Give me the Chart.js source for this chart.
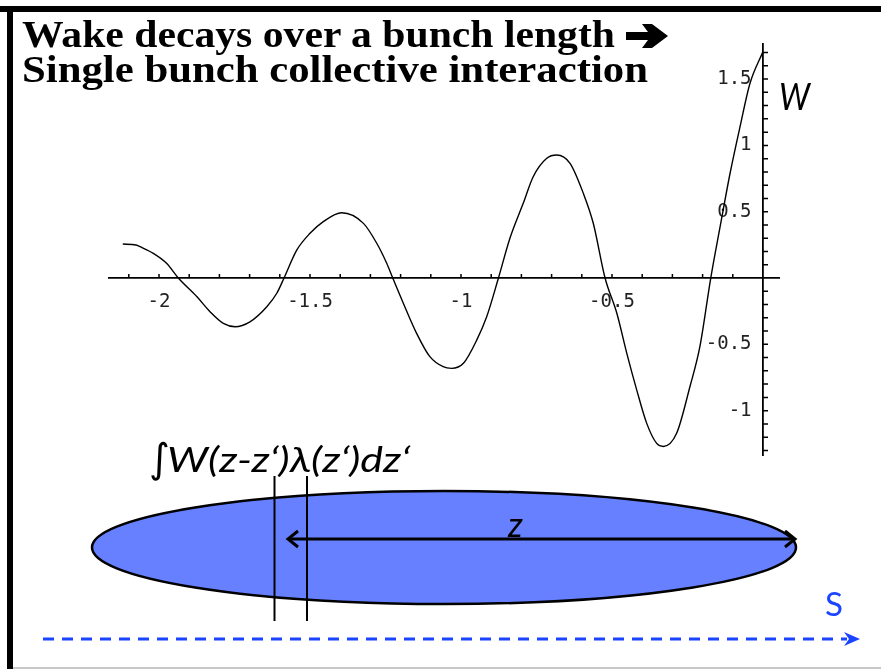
<!DOCTYPE html>
<html>
<head>
<meta charset="utf-8">
<script src="https://cdn.jsdelivr.net/npm/chart.js@4.4.1/dist/chart.umd.min.js"></script>
<style>
  html, body { margin: 0; padding: 0; background: #fff; }
  #slide { position: relative; width: 881px; height: 669px; overflow: hidden; background: #fff; }
  #wakeChart { position: absolute; left: 108px; top: 43px; }
  #deco { position: absolute; left: 0; top: 0; pointer-events: none; }
</style>
</head>
<body>
<div id="slide">
  <canvas id="wakeChart" width="672" height="413"></canvas>
  <svg id="deco" width="881" height="669" viewBox="0 0 881 669">
    <!-- marco de la diapositiva -->
    <rect x="0" y="6" width="881" height="6" fill="#000"/>
    <rect x="7" y="6" width="6" height="663" fill="#000"/>
    <rect x="13" y="667" width="868" height="2" fill="#c8c8c8"/>

    <!-- titulo -->
    <text x="22" y="47" font-family="Liberation Serif" font-weight="bold" font-size="37"
          textLength="593" lengthAdjust="spacingAndGlyphs">Wake decays over a bunch length</text>
    <path d="M626,32 L648,32 L642,24 L652,24 L668,36 L652,48 L642,48 L648,40 L626,40 Z" fill="#000"/>
    <text x="22" y="82" font-family="Liberation Serif" font-weight="bold" font-size="37"
          textLength="626" lengthAdjust="spacingAndGlyphs">Single bunch collective interaction</text>

    <!-- etiqueta del eje -->
    <text x="779" y="110" font-family="Lato" font-style="italic" font-size="36"
          textLength="31" lengthAdjust="spacingAndGlyphs">W</text>

    <!-- paquete -->
    <ellipse cx="444" cy="547.5" rx="352" ry="56.5" fill="#6680ff" stroke="#000" stroke-width="2.5"/>
    <line x1="274.5" y1="476" x2="274.5" y2="621" stroke="#000" stroke-width="2"/>
    <line x1="307" y1="476" x2="307" y2="621" stroke="#000" stroke-width="2"/>
    <line x1="288" y1="539" x2="794" y2="539" stroke="#000" stroke-width="3"/>
    <polyline points="298,531 288,539 298,547" fill="none" stroke="#000" stroke-width="3"/>
    <polyline points="785,531 795,539 785,547" fill="none" stroke="#000" stroke-width="3"/>
    <text x="508" y="537" font-family="Lato" font-style="italic" font-size="35">z</text>

    <text x="149" y="472" font-family="DejaVu Sans" font-size="40">∫</text>
    <text x="167" y="472" font-family="Lato" font-style="italic" font-size="35"
          textLength="243" lengthAdjust="spacingAndGlyphs">W(z-z‘)λ(z‘)dz‘</text>

    <!-- direccion s -->
    <line x1="43" y1="639" x2="847" y2="639" stroke="#1a44ff" stroke-width="3" stroke-dasharray="11 8"/>
    <polygon points="844,632 860,639 844,646 849,639" fill="#1a44ff"/>
    <text x="825" y="616" font-family="Lato" font-size="33" fill="#1a44ff"
          textLength="18" lengthAdjust="spacingAndGlyphs">S</text>
  </svg>
</div>

<script>
// Valores (z, W)
const wakeZ = [
  -2.120, -2.076, -2.063, -2.019, -1.975, -1.936, -1.875, -1.831, -1.787, -1.748,
  -1.699, -1.643, -1.610, -1.586, -1.544, -1.500, -1.456, -1.395, -1.323, -1.279,
  -1.246, -1.226, -1.191, -1.147, -1.103, -1.059, -1.031, -0.992, -0.948, -0.915,
  -0.876, -0.838, -0.794, -0.761, -0.716, -0.683, -0.639, -0.595, -0.562, -0.523,
  -0.484, -0.451, -0.418, -0.385, -0.352, -0.330, -0.286, -0.242, -0.209, -0.173,
  -0.142, -0.109, -0.076, -0.043, 0.000
];
const wakeW = [
  0.256, 0.249, 0.236, 0.186, 0.111, 0.000, -0.140, -0.254, -0.342, -0.367,
  -0.330, -0.216, -0.115, 0.000, 0.210, 0.337, 0.425, 0.492, 0.412, 0.262,
  0.111, 0.000, -0.190, -0.417, -0.593, -0.669, -0.681, -0.643, -0.468, -0.292,
  0.000, 0.300, 0.563, 0.764, 0.903, 0.928, 0.865, 0.639, 0.413, 0.000,
  -0.266, -0.568, -0.845, -1.096, -1.247, -1.270, -1.171, -0.820, -0.518, 0.000,
  0.387, 0.790, 1.141, 1.468, 1.707
];

// Marcas de los ejes
const xTickValues = [-2.1, -2.0, -1.9, -1.8, -1.7, -1.6, -1.5, -1.4, -1.3, -1.2, -1.1,
  -1.0, -0.9, -0.8, -0.7, -0.6, -0.5, -0.4, -0.3, -0.2, -0.1];
const xLabelValues = [-2, -1.5, -1, -0.5];
const xTickLabels = ['-2', '-1.5', '-1', '-0.5'];

const yTickValues = [-1.3, -1.2, -1.1, -1.0, -0.9, -0.8, -0.7, -0.6, -0.5, -0.4, -0.3, -0.2, -0.1,
  0.1, 0.2, 0.3, 0.4, 0.5, 0.6, 0.7, 0.8, 0.9, 1.0, 1.1, 1.2, 1.3, 1.4, 1.5, 1.6, 1.7];
const yLabelValues = [-1, -0.5, 0.5, 1, 1.5];
const yTickLabels = ['-1', '-0.5', '0.5', '1', '1.5'];

const AXIS_FONT = { family: 'DejaVu Sans Mono', size: 19 };

function labelFor(value, where, labels) {
  const i = where.findIndex(v => Math.abs(v - value) < 1e-6);
  return i >= 0 ? labels[i] : '';
}

// Marcas pequeñas al estilo Mathematica (hacia arriba en x, hacia la derecha en y)
const tickMarksPlugin = {
  id: 'tickMarks',
  afterDraw(chart) {
    const { ctx, scales: { x, y } } = chart;
    const y0 = y.getPixelForValue(0);
    const x0 = x.getPixelForValue(0);
    ctx.save();
    ctx.strokeStyle = '#000';
    ctx.lineWidth = 1.5;
    ctx.beginPath();
    x.ticks.forEach(t => {
      const px = x.getPixelForValue(t.value);
      ctx.moveTo(px, y0);
      ctx.lineTo(px, y0 - 4);
    });
    y.ticks.forEach(t => {
      const py = y.getPixelForValue(t.value);
      ctx.moveTo(x0, py);
      ctx.lineTo(x0 + 5, py);
    });
    ctx.stroke();
    ctx.restore();
  }
};

new Chart(document.getElementById('wakeChart').getContext('2d'), {
  type: 'line',
  data: {
    datasets: [{
      data: wakeZ.map((z, i) => ({ x: z, y: wakeW[i] })),
      borderColor: '#000',
      borderWidth: 1.4,
      pointRadius: 0,
      fill: false,
      cubicInterpolationMode: 'monotone'
    }]
  },
  options: {
    responsive: false,
    animation: false,
    devicePixelRatio: 1,
    layout: { padding: 0 },
    plugins: { legend: { display: false }, tooltip: { enabled: false } },
    scales: {
      x: {
        type: 'linear',
        min: -2.1689,
        max: 0.0563,
        position: { y: 0 },
        afterFit: s => { s.height = 0; s.paddingLeft = 0; s.paddingRight = 0; },
        afterBuildTicks: s => { s.ticks = xTickValues.map(v => ({ value: v })); },
        grid: { drawOnChartArea: false, drawTicks: false },
        border: { display: true, color: '#000', width: 1.8 },
        ticks: {
          autoSkip: false,
          maxRotation: 0,
          padding: 13,
          color: '#222',
          font: AXIS_FONT,
          callback: v => labelFor(v, xLabelValues, xTickLabels)
        }
      },
      y: {
        type: 'linear',
        min: -1.342,
        max: 1.772,
        position: { x: 0 },
        afterFit: s => { s.width = 0; s.paddingTop = 0; s.paddingBottom = 0; },
        afterBuildTicks: s => { s.ticks = yTickValues.map(v => ({ value: v })); },
        grid: { drawOnChartArea: false, drawTicks: false },
        border: { display: true, color: '#000', width: 1.8 },
        ticks: {
          autoSkip: false,
          color: '#222',
          font: AXIS_FONT,
          // el espacio final separa la etiqueta del eje (texto alineado a la derecha)
          callback: v => { const t = labelFor(v, yLabelValues, yTickLabels); return t ? t + ' ' : ''; }
        }
      }
    }
  },
  plugins: [tickMarksPlugin]
});
</script>
</body>
</html>
